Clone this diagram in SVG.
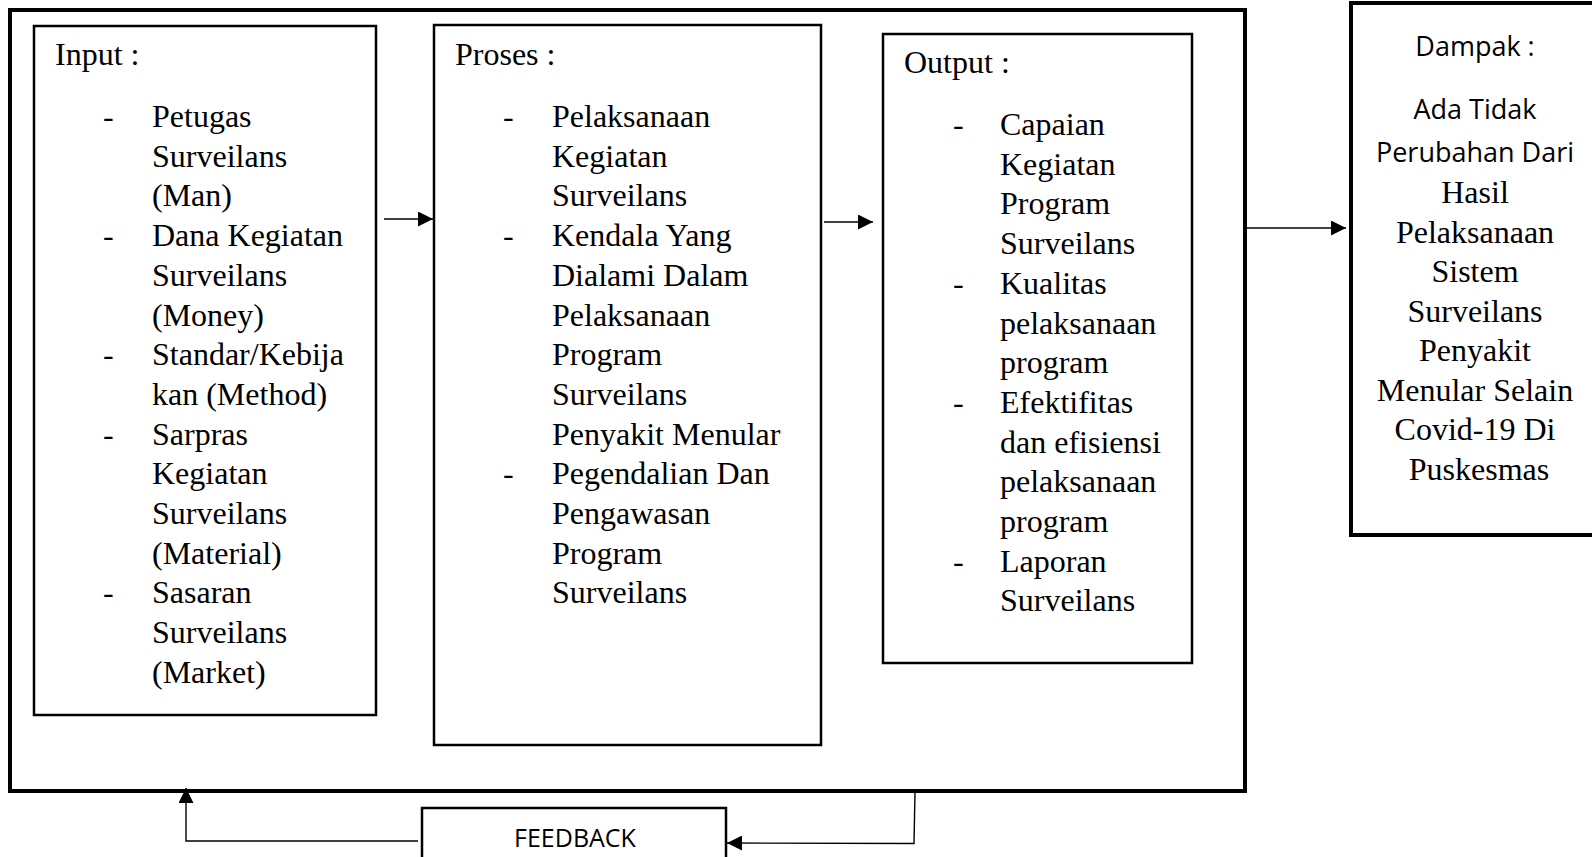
<svg xmlns="http://www.w3.org/2000/svg" width="1592" height="857" viewBox="0 0 1592 857">
<style>
.box{fill:#fff;stroke:#000;stroke-width:2.5}
.thick{fill:none;stroke:#000;stroke-width:4}
.serif{font-family:"Liberation Serif","Times New Roman",serif;font-size:32px;fill:#000}
.sans{font-family:"Open Sans","Noto Sans",sans-serif;font-size:27px;fill:#000}
.conn{fill:none;stroke:#000;stroke-width:1.4}
</style>
<defs>
<marker id="ah" markerWidth="15" markerHeight="15" viewBox="0 0 15 15" refX="15" refY="7.5" orient="auto" markerUnits="userSpaceOnUse">
<path d="M0,0 L15,7.5 L0,15 Z" fill="#000"/>
</marker>
</defs>
<rect width="1592" height="857" fill="#fff"/>
<g id="outer"><rect class="thick" x="10" y="10" width="1235" height="781"/></g>

<g id="input">
<rect class="box" x="34" y="26" width="342" height="689"/>
<text class="serif" x="55" y="65">Input :</text>
<text class="serif">
<tspan x="103" y="127">-</tspan><tspan x="152" y="127">Petugas</tspan>
<tspan x="152" y="166.7">Surveilans</tspan>
<tspan x="152" y="206.4">(Man)</tspan>
<tspan x="103" y="246.1">-</tspan><tspan x="152" y="246.1">Dana Kegiatan</tspan>
<tspan x="152" y="285.8">Surveilans</tspan>
<tspan x="152" y="325.5">(Money)</tspan>
<tspan x="103" y="365.2">-</tspan><tspan x="152" y="365.2">Standar/Kebija</tspan>
<tspan x="152" y="404.9">kan (Method)</tspan>
<tspan x="103" y="444.6">-</tspan><tspan x="152" y="444.6">Sarpras</tspan>
<tspan x="152" y="484.3">Kegiatan</tspan>
<tspan x="152" y="524">Surveilans</tspan>
<tspan x="152" y="563.7">(Material)</tspan>
<tspan x="103" y="603.4">-</tspan><tspan x="152" y="603.4">Sasaran</tspan>
<tspan x="152" y="643.1">Surveilans</tspan>
<tspan x="152" y="682.8">(Market)</tspan>
</text>
</g>

<g id="proses">
<rect class="box" x="434" y="25" width="387" height="720"/>
<text class="serif" x="455" y="65">Proses :</text>
<text class="serif">
<tspan x="503" y="127">-</tspan><tspan x="552" y="127">Pelaksanaan</tspan>
<tspan x="552" y="166.7">Kegiatan</tspan>
<tspan x="552" y="206.4">Surveilans</tspan>
<tspan x="503" y="246.1">-</tspan><tspan x="552" y="246.1">Kendala Yang</tspan>
<tspan x="552" y="285.8">Dialami Dalam</tspan>
<tspan x="552" y="325.5">Pelaksanaan</tspan>
<tspan x="552" y="365.2">Program</tspan>
<tspan x="552" y="404.9">Surveilans</tspan>
<tspan x="552" y="444.6">Penyakit Menular</tspan>
<tspan x="503" y="484.3">-</tspan><tspan x="552" y="484.3">Pegendalian Dan</tspan>
<tspan x="552" y="524">Pengawasan</tspan>
<tspan x="552" y="563.7">Program</tspan>
<tspan x="552" y="603.4">Surveilans</tspan>
</text>
</g>

<g id="output">
<rect class="box" x="883" y="34" width="309" height="629"/>
<text class="serif" x="904" y="73">Output :</text>
<text class="serif">
<tspan x="953" y="135">-</tspan><tspan x="1000" y="135">Capaian</tspan>
<tspan x="1000" y="174.7">Kegiatan</tspan>
<tspan x="1000" y="214.4">Program</tspan>
<tspan x="1000" y="254.1">Surveilans</tspan>
<tspan x="953" y="293.8">-</tspan><tspan x="1000" y="293.8">Kualitas</tspan>
<tspan x="1000" y="333.5">pelaksanaan</tspan>
<tspan x="1000" y="373.2">program</tspan>
<tspan x="953" y="412.9">-</tspan><tspan x="1000" y="412.9">Efektifitas</tspan>
<tspan x="1000" y="452.6">dan efisiensi</tspan>
<tspan x="1000" y="492.3">pelaksanaan</tspan>
<tspan x="1000" y="532">program</tspan>
<tspan x="953" y="571.7">-</tspan><tspan x="1000" y="571.7">Laporan</tspan>
<tspan x="1000" y="611.4">Surveilans</tspan>
</text>
</g>

<g id="dampak">
<rect class="thick" x="1351" y="3" width="260" height="532"/>
<text class="sans" x="1475" y="56" text-anchor="middle">Dampak :</text>
<text class="sans" x="1475" y="119" text-anchor="middle">Ada Tidak</text>
<text class="sans" x="1475" y="162" text-anchor="middle">Perubahan Dari</text>
<text class="serif" text-anchor="middle">
<tspan x="1479" y="203">Hasil</tspan>
<tspan x="1479" y="242.5">Pelaksanaan</tspan>
<tspan x="1479" y="282">Sistem</tspan>
<tspan x="1479" y="321.5">Surveilans</tspan>
<tspan x="1479" y="361">Penyakit</tspan>
<tspan x="1479" y="400.5">Menular Selain</tspan>
<tspan x="1479" y="440">Covid-19 Di</tspan>
<tspan x="1479" y="480">Puskesmas</tspan>
</text>
</g>

<g id="feedback">
<rect class="box" x="422" y="808" width="304" height="70"/>
<text class="sans" x="575" y="847" text-anchor="middle" style="font-size:25px">FEEDBACK</text>
</g>

<g id="connectors">
<line class="conn" x1="384" y1="219" x2="433" y2="219" marker-end="url(#ah)"/>
<line class="conn" x1="824" y1="222" x2="873" y2="222" marker-end="url(#ah)"/>
<line class="conn" x1="1247" y1="228" x2="1346" y2="228" marker-end="url(#ah)"/>
<polyline class="conn" points="418,841 186,841 186,788" marker-end="url(#ah)"/>
<polyline class="conn" points="915,792 914,843.5 727,843" marker-end="url(#ah)"/>
</g>
</svg>
